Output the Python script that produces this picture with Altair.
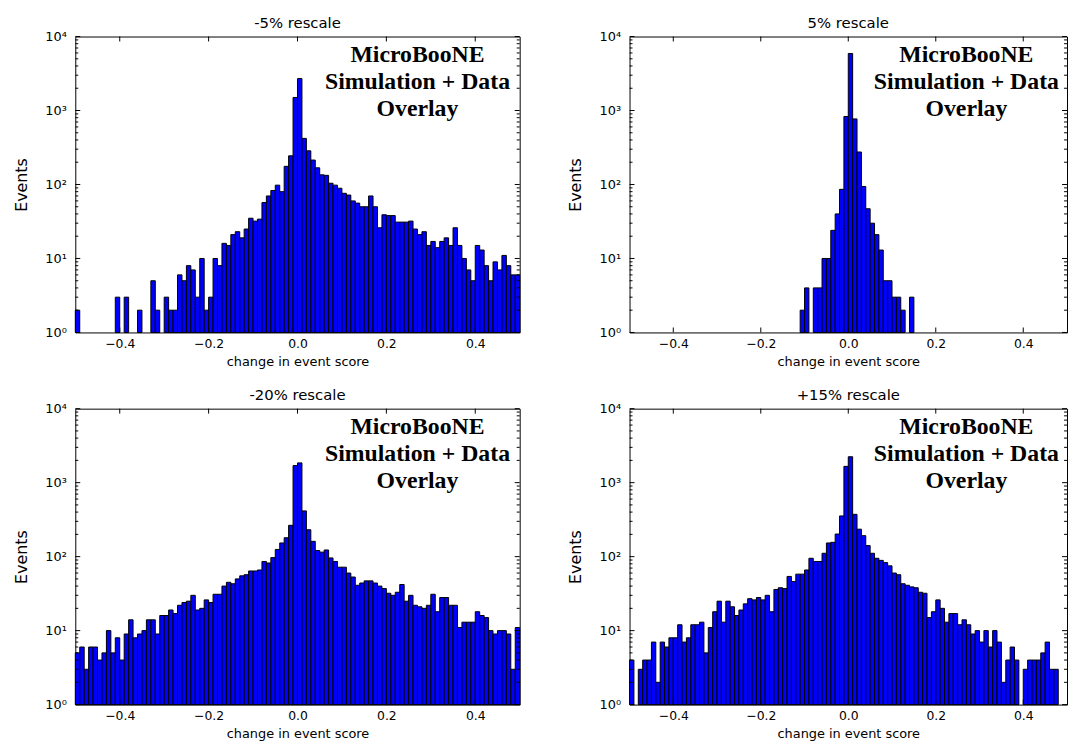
import altair as alt
import pandas as pd
import numpy as np

titles = ["-5% rescale", "5% rescale", "-20% rescale", "+15% rescale"]

counts_m5 = [2, 0, 0, 0, 0, 0, 0, 0, 0, 3,
             0, 3, 0, 0, 2, 0, 0, 5, 2, 0,
             3, 2, 2, 6, 5, 8, 7, 3, 10, 2,
             3, 10, 8, 16, 15, 21, 23, 19, 25, 35,
             32, 34, 57, 70, 83, 98, 80, 176, 244, 1500,
             2700, 420, 285, 214, 168, 135, 133, 104, 98, 89,
             76, 72, 60, 56, 50, 50, 70, 50, 26, 39,
             38, 38, 31, 31, 31, 32, 25, 21, 23, 15,
             17, 14, 17, 19, 15, 26, 15, 10, 7, 5,
             15, 13, 8, 5, 9, 7, 11, 8, 6, 6]

counts_p5 = [0] * 39 + [2, 4, 0, 4, 4, 10, 10, 24, 40, 86, 830,
                        5900, 770, 275, 94, 47, 30, 21, 13, 5, 5,
                        3, 3, 2, 0, 3] + [0] * 35

counts_m20 = [5, 6, 3, 6, 6, 4, 5, 10, 5, 8,
              4, 9, 14, 8, 9, 10, 14, 14, 9, 16,
              16, 19, 17, 22, 24, 25, 30, 19, 20, 26,
              24, 31, 31, 40, 45, 43, 50, 55, 57, 64,
              64, 66, 86, 82, 97, 125, 153, 180, 265, 1700,
              1850, 415, 231, 161, 121, 115, 123, 96, 86, 72,
              72, 60, 53, 41, 44, 47, 47, 44, 40, 37,
              32, 30, 33, 42, 25, 30, 22, 21, 20, 22,
              31, 18, 28, 28, 22, 22, 11, 13, 13, 13,
              18, 16, 15, 10, 9, 10, 10, 9, 3, 11]

counts_p15 = [4, 0, 3, 4, 4, 7, 2, 7, 6, 8,
              8, 12, 7, 8, 12, 12, 13, 5, 11, 18,
              25, 13, 25, 21, 16, 19, 23, 27, 26, 28,
              26, 30, 18, 36, 38, 37, 54, 46, 58, 58,
              66, 95, 86, 86, 111, 153, 156, 202, 355, 1660,
              2240, 373, 235, 192, 141, 111, 95, 89, 83, 75,
              60, 57, 43, 41, 39, 38, 33, 32, 15, 18,
              26, 20, 13, 17, 17, 12, 14, 12, 9, 10,
              7, 10, 6, 10, 7, 2, 4, 6, 4, 0,
              3, 4, 4, 4, 5, 7, 3, 3, 0, 0]

x_tick_values = [-0.4, -0.2, 0.0, 0.2, 0.4]
y_major = [1, 10, 100, 1000, 10000]
y_minor = [m * d for d in [1, 10, 100, 1000] for m in range(2, 10)]
annotation = "MicroBooNE\nSimulation + Data\nOverlay"

edges = np.round(np.linspace(-0.5, 0.5, 101), 2)

H = 299
FONT = "DejaVu Sans"

xs = alt.Scale(domain=[-0.5, 0.5], nice=False, zero=False)
ys = alt.Scale(type="log", domain=[1, 10000], nice=False)

sup_expr = "'10' + ['\u2070','\u00b9','\u00b2','\u00b3','\u2074'][round(log(datum.value)/LN10)]"

x_axis = alt.Axis(values=x_tick_values, format=".1f",
                  title="change in event score",
                  titleFontSize=13, labelFontSize=12.5,
                  labelPadding=5, titlePadding=6)
y_axis = alt.Axis(values=y_major, labelExpr=sup_expr,
                  title="Events", titleFontSize=16,
                  labelFontSize=13, labelPadding=9,
                  titlePadding=15.5)


def panel(counts, title, width):
    df = pd.DataFrame({"x0": edges[:-1], "x1": edges[1:], "n": counts})
    df = df[df["n"] > 0]
    bars = alt.Chart(df).mark_bar(
        color="#0000ff", stroke="black", strokeWidth=1
    ).encode(
        x=alt.X("x0:Q", scale=xs, axis=x_axis),
        x2="x1:Q",
        y=alt.Y("n:Q", scale=ys, axis=y_axis),
        y2=alt.datum(1),
    )
    ymaj = pd.DataFrame({"v": y_major})
    ymin = pd.DataFrame({"v": y_minor})
    xmaj = pd.DataFrame({"v": x_tick_values})
    yenc = alt.Y("v:Q", scale=ys, axis=y_axis)
    xenc = alt.X("v:Q", scale=xs, axis=x_axis)
    tl1 = alt.Chart(ymaj).mark_rule(color="black").encode(y=yenc, x=alt.value(0), x2=alt.value(5))
    tl2 = alt.Chart(ymin).mark_rule(color="black").encode(y=yenc, x=alt.value(0), x2=alt.value(3))
    tr1 = alt.Chart(ymaj).mark_rule(color="black").encode(y=yenc, x=alt.value(width), x2=alt.value(width - 5))
    tr2 = alt.Chart(ymin).mark_rule(color="black").encode(y=yenc, x=alt.value(width), x2=alt.value(width - 3))
    tb = alt.Chart(xmaj).mark_rule(color="black").encode(x=xenc, y=alt.value(H), y2=alt.value(H - 5))
    tt = alt.Chart(xmaj).mark_rule(color="black").encode(x=xenc, y=alt.value(0), y2=alt.value(5))
    txt = alt.Chart(pd.DataFrame({"t": [annotation]})).mark_text(
        font="Liberation Serif", fontWeight="bold", fontSize=24,
        lineBreak="\n", lineHeight=27, align="center", baseline="alphabetic",
        color="black"
    ).encode(x=alt.value(width * 0.77), y=alt.value(26), text="t:N")
    return alt.layer(bars, tl1, tl2, tr1, tr2, tb, tt, txt).properties(
        width=width, height=H,
        title=alt.TitleParams(title, fontSize=15, font=FONT, fontWeight="normal",
                              color="black", offset=0),
    )


p1 = panel(counts_m5, titles[0], 449)
p2 = panel(counts_p5, titles[1], 442)
p3 = panel(counts_m20, titles[2], 449)
p4 = panel(counts_p15, titles[3], 442)

row1 = alt.hconcat(p1, p2, spacing=47)
row2 = alt.hconcat(p3, p4, spacing=47)
chart = alt.vconcat(row1, row2, spacing=18).properties(
    padding={"left": 5, "top": 3, "right": 0, "bottom": 0}
).configure_view(
    stroke="black", strokeWidth=1
).configure_axis(
    grid=False, domain=False, ticks=False, tickSize=0,
    labelFont=FONT, titleFont=FONT, labelColor="black", titleColor="black",
    titleFontWeight="normal"
)

chart.save("out.html", embed_options={"renderer": "svg", "actions": False})
